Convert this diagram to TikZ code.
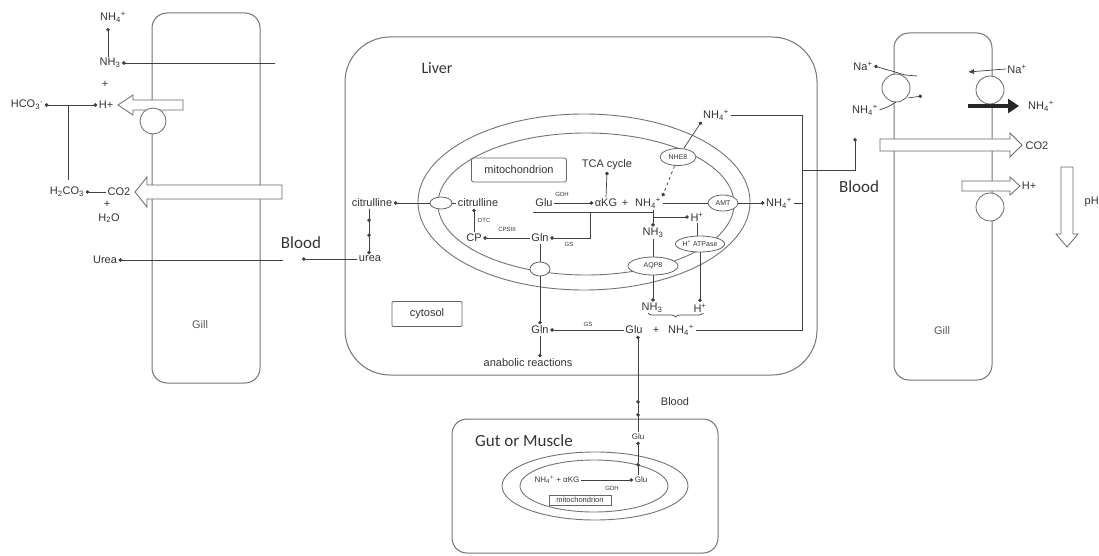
\documentclass[tikz,border=0pt]{standalone}
\usepackage{fontspec}
\setmainfont{Liberation Sans}
\newfontfamily\titlefont{Carlito}
\usetikzlibrary{arrows.meta,shapes.geometric,decorations.pathreplacing}
\newcommand{\nhfour}{NH\textsubscript{4}\textsuperscript{+}}
\newcommand{\nhthree}{NH\textsubscript{3}}
% tail x, head base x, tip x, y, body half, head half
\newcommand{\hollowarrow}[6]{%
  \draw[hollow] ({#1},{#4-#5}) -- ({#2},{#4-#5}) -- ({#2},{#4-#6}) -- ({#3},{#4})
    -- ({#2},{#4+#6}) -- ({#2},{#4+#5}) -- ({#1},{#4+#5}) -- cycle;}

\begin{document}
\begin{tikzpicture}[
    x=1pt, y=-1pt,
    every node/.style={text=black!80, inner sep=1.5pt, font=\fontsize{11}{13}\selectfont},
    bigtitle/.style={font=\titlefont\fontsize{17}{20}\selectfont},
    smalllbl/.style={font=\fontsize{8}{9}\selectfont},
    tinylbl/.style={font=\fontsize{6}{7}\selectfont},
    wall/.style={draw=black!55, line width=1pt},
    membrane/.style={draw=black!55, line width=0.9pt},
    carrier/.style={ellipse, draw=black!60, fill=white, line width=0.8pt, inner sep=0pt, font=\fontsize{7}{8}\selectfont},
    pump/.style={circle, draw=black!60, fill=white, line width=0.8pt, minimum size=26pt, inner sep=0pt},
    hollow/.style={draw=black!60, fill=white, line width=0.8pt},
    framebox/.style={draw=black!60, rounded corners=2pt, line width=0.8pt},
    conn/.style={draw=black!75, line width=0.7pt},
    dotarrow/.style={conn, -{Circle[length=3.6pt]}}
  ]
  \useasboundingbox (0,0) rectangle (1099,556);

  % Left gill
  \draw[wall, rounded corners=15pt] (152,13) rectangle (260,383);
  \node[text=black!65] (lgill) at (200,325) {Gill};
  \hollowarrow{183}{133}{118}{105}{5}{10}
  \hollowarrow{282}{147}{135}{192}{7}{15}
  \node[pump] (lpump) at (153,121) {};

  \node (lNHfour) at (113,17) {\nhfour};
  \node (lNHthree) at (110,63) {\nhthree};
  \node (lplusa) at (105,84) {+};
  \node (lH) at (106,105) {H+};
  \node (lHCO) at (27,105) {HCO\textsubscript{3}\textsuperscript{-}};
  \node (lHtwoCO) at (67,192) {H\textsubscript{2}CO\textsubscript{3}};
  \node (lCO) at (119,192) {CO2};
  \node (lplusb) at (107,204) {+};
  \node (lHtwoO) at (109,218) {H\textsubscript{2}O};
  \node (lUrea) at (105,260) {Urea};
  \node[bigtitle] (lblood) at (301,243) {Blood};

  \coordinate (lNHin) at (275,63);
  \coordinate (lsplit) at (68,105);
  \coordinate (lsplitb) at (68,180);
  \coordinate (lurin) at (283,260);

  \draw[dotarrow] (lNHthree.north -| 108,0) -- (108,28);
  \draw[dotarrow] (lNHin) -- (lNHthree.east);
  \draw[dotarrow] (lCO.west) -- (lHtwoCO.east);
  \draw[conn] (lsplitb) -- (lsplit);
  \draw[dotarrow] (lsplit) -- (lHCO.east);
  \draw[dotarrow] (lsplit) -- (lH.west);
  \draw[dotarrow] (lurin) -- (lUrea.east);

  % Liver
  \draw[wall, rounded corners=45pt] (345,37) rectangle (817,375);
  \draw[membrane] (584,202) ellipse [x radius=166pt, y radius=88pt];
  \draw[membrane] (586,204) ellipse [x radius=148pt, y radius=71pt];
  \node[bigtitle, font=\titlefont\fontsize{16}{19}\selectfont] (liver) at (437,68) {Liver};
  \node[framebox, minimum width=95pt, minimum height=24pt] (mito) at (519,170) {mitochondrion};
  \node[framebox, minimum width=70pt, minimum height=25pt, rounded corners=1pt] (cytosol) at (427,314) {cytosol};

  \node[carrier, minimum width=22pt, minimum height=12pt] (cittr) at (441,203) {};
  \node[carrier, minimum width=20pt, minimum height=14pt] (glntr) at (540,269) {};
  \node[carrier, minimum width=36pt, minimum height=17pt] (NHE) at (678,157) {NHE8};
  \node[carrier, minimum width=30pt, minimum height=16pt] (AMT) at (723,203) {AMT};
  \node[carrier, minimum width=45pt, minimum height=16pt] (HATP) at (700,244) {H\textsuperscript{+} ATPase};
  \node[carrier, minimum width=50pt, minimum height=18pt] (AQP) at (653,266) {AQP8};

  \node (TCA) at (607,165) {TCA cycle};
  \node (citout) at (372,203) {citrulline};
  \node (citin) at (478,203) {citrulline};
  \node (urea) at (370,259) {urea};
  \node (CP) at (474,238) {CP};
  \node (Glnin) at (540,238) {Gln};
  \node (Gluin) at (544,203) {Glu};
  \node (aKG) at (606,203) {αKG};
  \node (plusin) at (625,203) {+};
  \node (NHfourin) at (648,203) {\nhfour};
  \node (NHfourout) at (779,203) {\nhfour};
  \node (NHfourtop) at (716,115) {\nhfour};
  \node (Hin) at (697,217) {H\textsuperscript{+}};
  \node (NHthreein) at (653,233) {\nhthree};
  \node (NHthreeout) at (652,308) {\nhthree};
  \node (Hout) at (700,308) {H\textsuperscript{+}};
  \node (Gluc) at (634,330) {Glu};
  \node (plusc) at (656,330) {+};
  \node (NHfourc) at (681,330) {\nhfour};
  \node (Glnc) at (540,330) {Gln};
  \node (anab) at (528,363) {anabolic reactions};

  \node[tinylbl] (GDH) at (562,194) {GDH};
  \node[tinylbl] (OTC) at (484,220) {OTC};
  \node[tinylbl] (CPS) at (507,229) {CPSIII};
  \node[tinylbl] (GSa) at (569,244) {GS};
  \node[tinylbl] (GSb) at (588,324) {GS};
  \node[bigtitle] (rblood) at (859,187) {Blood};

  \coordinate (cita) at (369,222);
  \coordinate (citb) at (369,237);
  \coordinate (ublood) at (302,259);
  \coordinate (brL) at (533,212);
  \coordinate (brR) at (653,212);
  \coordinate (brM) at (590,212);
  \coordinate (brD) at (590,238);
  \coordinate (nhj) at (653,217);
  \coordinate (rvert) at (802,330);
  \coordinate (rblA) at (802,170);
  \coordinate (rblB) at (855,138);
  \coordinate (brA) at (648,313);
  \coordinate (brB) at (703,313);

  \draw[dotarrow] (Gluin.east) -- (aKG.west);
  \draw[dotarrow] (aKG.north) -- (TCA.south);
  \draw[conn] (brL) -- (brR);
  \draw[dotarrow] (brM) -- (brD) -- (Glnin.east);
  \draw[dotarrow] (Glnin.west) -- (CP.east);
  \draw[dotarrow] (CP.north) -- (CP.north |- citin.south);
  \draw[conn] (citin.west) -- (cittr.east);
  \draw[dotarrow] (cittr.west) -- (citout.east);
  \draw[dotarrow] (citout.south -| cita) -- (cita);
  \draw[dotarrow] (cita) -- (citb);
  \draw[dotarrow] (citb) -- (urea.north -| citb);
  \draw[dotarrow] (urea.west) -- (ublood);

  \draw[conn] (NHfourin.east) -- (AMT.west);
  \draw[dotarrow] (AMT.east) -- (NHfourout.west);
  \draw[conn] (NHfourout.east) -- (NHfourout.east -| rvert);
  \draw[conn] (NHfourtop.east) -| (rvert) -- (NHfourc.east);
  \draw[dotarrow] (rblA) -| (rblB);
  \draw[dotarrow, dashed] (NHE) -- (NHfourin.north east);
  \draw[dotarrow] (NHE) -- (NHfourtop.south west);

  \draw[dotarrow] (NHthreein |- NHfourin.south) -- (NHthreein.north);
  \draw[dotarrow] (nhj) -- (Hin.west);
  \draw[conn] (Hin.south) -- (Hin.south |- HATP.north);
  \draw[conn] (NHthreein.south) -- (AQP.north);
  \draw[dotarrow] (AQP.south) -- (AQP.south |- NHthreeout.north);
  \draw[dotarrow] (HATP.south) -- (HATP.south |- Hout.north);
  \draw[conn, decorate, decoration={brace, mirror, amplitude=4pt}] (brA) -- (brB);

  \draw[dotarrow] (Gluc.west) -- (Glnc.east);
  \draw[conn] (Glnin.south) -- (glntr.north);
  \draw[dotarrow] (glntr.south) -- (Glnc.north);
  \draw[dotarrow] (Glnc.south) -- (Glnc.south |- anab.north);

  % Gut or muscle
  \draw[wall, rounded corners=15pt] (452,419) rectangle (718,553);
  \draw[membrane] (595,486) ellipse [x radius=93pt, y radius=34pt];
  \draw[membrane] (594,486) ellipse [x radius=74pt, y radius=26pt];
  \node[bigtitle] (gut) at (524,441) {Gut or Muscle};
  \node[smalllbl] (gReact) at (557,480) {\nhfour{} + αKG};
  \node[smalllbl] (gGluin) at (641,480) {Glu};
  \node[smalllbl] (gGlu) at (638,437) {Glu};
  \node[tinylbl] (gGDH) at (612,488) {GDH};
  \node[framebox, rounded corners=0pt, font=\fontsize{7.5}{8}\selectfont, minimum width=62pt, minimum height=10pt, inner sep=0.5pt] (gmito) at (580,500) {mitochondrion};
  \node (gblood) at (675,402) {Blood};

  \coordinate (gm) at (638,463);
  \coordinate (bla) at (638,413);
  \coordinate (blb) at (638,400);

  \draw[dotarrow] (gReact.east) -- (gGluin.west);
  \draw[dotarrow] (gGluin.north -| gm) -- (gm);
  \draw[dotarrow] (gm) -- (gGlu.south -| gm);
  \draw[dotarrow] (gGlu.north -| gm) -- (bla);
  \draw[dotarrow] (bla) -- (blb);
  \draw[dotarrow] (blb) -- (blb |- Gluc.south);

  % Right gill
  \draw[wall, rounded corners=15pt] (894,33) rectangle (992,380);
  \node[text=black!65] (rgill) at (942,331) {Gill};
  \hollowarrow{880}{1010}{1022}{145}{6}{12}
  \hollowarrow{962}{1010}{1020}{186}{5}{9}
  \draw[hollow] (1061,167) -- (1073,167) -- (1073,234) -- (1078,234) -- (1067,247)
    -- (1056,234) -- (1061,234) -- cycle;
  \node[pump, minimum size=28pt] (rpumpa) at (896,88) {};
  \node[pump, minimum size=28pt] (rpumpb) at (990,90) {};
  \node[pump, minimum size=28pt] (rpumpc) at (990,207) {};

  \node (rNaone) at (863,66) {Na\textsuperscript{+}};
  \node (rNHfoura) at (865,110) {\nhfour};
  \node (rNatwo) at (1017,69) {Na\textsuperscript{+}};
  \node (rNHfourb) at (1041,106) {\nhfour};
  \node (rCO) at (1037,146) {CO2};
  \node (rH) at (1029,186) {H+};
  \node[anchor=west] (pH) at (1083,202) {pH};

  \coordinate (rca) at (917,76);
  \coordinate (rcb) at (922,96);
  \coordinate (rnat) at (968,72);
  \coordinate (rthick) at (968,106);
  \coordinate (rthicktip) at (1019,106);

  \draw[dotarrow] (rca) -- (905,75) .. controls (895,72) .. (rNaone.east);
  \draw[conn] (rNHfoura.east) .. controls (890,106) .. (896,102);
  \draw[dotarrow] (908,98) -- (rcb);
  \draw[conn, -{Latex[length=6pt,width=5pt]}] (rNatwo.west) -- (rnat);
  \draw[black!85, line width=4pt, -{Triangle[length=11pt,width=14pt]}] (rthick) -- (rthicktip);
\end{tikzpicture}
\end{document}
